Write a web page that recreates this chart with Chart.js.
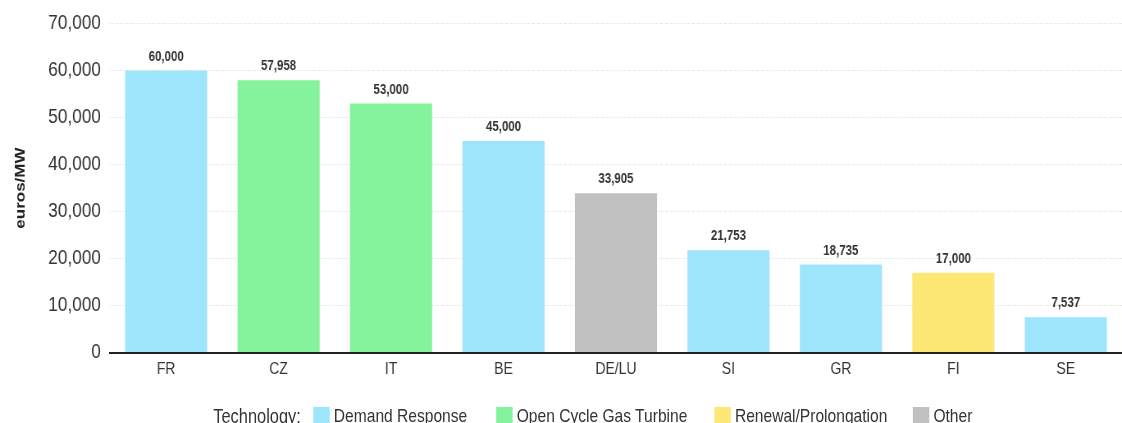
<!DOCTYPE html>
<html>
<head>
<meta charset="utf-8">
<script src="https://cdn.jsdelivr.net/npm/chart.js@4/dist/chart.umd.min.js"></script>
<style>
  html, body { margin: 0; padding: 0; background: #fff; overflow: hidden; }
  #outer { position: relative; width: 1122px; height: 423px; overflow: hidden; }
  #wrap { position: absolute; left: 0; top: 0; width: 1368px; height: 423px; transform: scaleX(0.8202); transform-origin: 0 0; }
  #c { position: absolute; left: 0; top: 0; }
  #legend { position: absolute; left: 0; top: 406px; width: 1368px; height: 30px; font-family: "Liberation Sans", Arial, sans-serif; font-size: 19px; color: #333; white-space: nowrap; }
  #legend span.abs { position: absolute; top: 0; line-height: 20px; }
  #legend span.sw { position: absolute; top: 1px; width: 20px; height: 18px; }
</style>
</head>
<body>
<div id="outer">
<div id="wrap">
  <canvas id="c" width="1368" height="423"></canvas>
  <div id="legend"></div>
</div>
</div>
<script>
const categories = ["FR", "CZ", "IT", "BE", "DE/LU", "SI", "GR", "FI", "SE"];
const values = [60000, 57958, 53000, 45000, 33905, 21753, 18735, 17000, 7537];
const technologies = ["Demand Response", "Open Cycle Gas Turbine", "Open Cycle Gas Turbine", "Demand Response", "Other", "Demand Response", "Demand Response", "Renewal/Prolongation", "Demand Response"];
const legendTitle = "Technology:";
const legendItems = ["Demand Response", "Open Cycle Gas Turbine", "Renewal/Prolongation", "Other"];
const techColors = {
  "Demand Response": "#9de5fb",
  "Open Cycle Gas Turbine": "#85f39b",
  "Renewal/Prolongation": "#fde875",
  "Other": "#c0c0c0"
};
const yTitle = "euros/MW";

const FONT = '"Liberation Sans", Arial, sans-serif';
const fmt = v => v.toLocaleString('en-US');

const labelPlugin = {
  id: 'barLabels',
  afterDatasetsDraw(chart) {
    const ctx = chart.ctx;
    const meta = chart.getDatasetMeta(0);
    ctx.save();
    ctx.font = 'bold 14px ' + FONT;
    ctx.fillStyle = '#333';
    ctx.textAlign = 'center';
    ctx.textBaseline = 'alphabetic';
    meta.data.forEach((bar, i) => {
      ctx.fillText(fmt(values[i]), bar.x, bar.y - 10);
    });
    ctx.restore();
  }
};

new Chart(document.getElementById('c'), {
  type: 'bar',
  data: {
    labels: categories,
    datasets: [{
      data: values,
      backgroundColor: technologies.map(t => techColors[t]),
      borderWidth: 0,
      barPercentage: 0.73,
      categoryPercentage: 1.0
    }]
  },
  options: {
    responsive: false,
    animation: false,
    devicePixelRatio: 1,
    layout: { padding: { top: 23, right: 0, bottom: 36, left: 15 } },
    plugins: { legend: { display: false }, tooltip: { enabled: false } },
    scales: {
      x: {
        grid: { display: false, drawTicks: false },
        border: { display: true, color: '#222', width: 2 },
        ticks: { color: '#333', font: { family: FONT, size: 17 }, padding: 7 }
      },
      y: {
        min: 0, max: 70000,
        ticks: { stepSize: 10000, color: '#333', font: { family: FONT, size: 21 }, padding: 11, callback: v => fmt(v) },
        grid: { color: '#d4d4d4', drawTicks: false, lineWidth: 1 },
        border: { display: false, dash: [1, 2] },
        title: { display: true, text: yTitle, color: '#222', font: { family: FONT, size: 17, weight: 'bold' }, padding: 0 },
        afterFit: s => { s.width = 119; }
      }
    }
  },
  plugins: [labelPlugin]
});

// legend positions in pre-scale (unscaled) coordinates
const lg = document.getElementById('legend');
const legendTitleX = 260;
const swatchX = [382, 605, 871, 1113];
const t = document.createElement('span');
t.className = 'abs';
t.style.left = legendTitleX + 'px';
t.style.fontSize = '20px';
t.textContent = legendTitle;
lg.appendChild(t);
legendItems.forEach((name, i) => {
  const sw = document.createElement('span');
  sw.className = 'sw';
  sw.style.left = swatchX[i] + 'px';
  sw.style.background = techColors[name];
  lg.appendChild(sw);
  const tx = document.createElement('span');
  tx.className = 'abs';
  tx.style.left = (swatchX[i] + 25) + 'px';
  tx.textContent = name;
  lg.appendChild(tx);
});
</script>
</body>
</html>
